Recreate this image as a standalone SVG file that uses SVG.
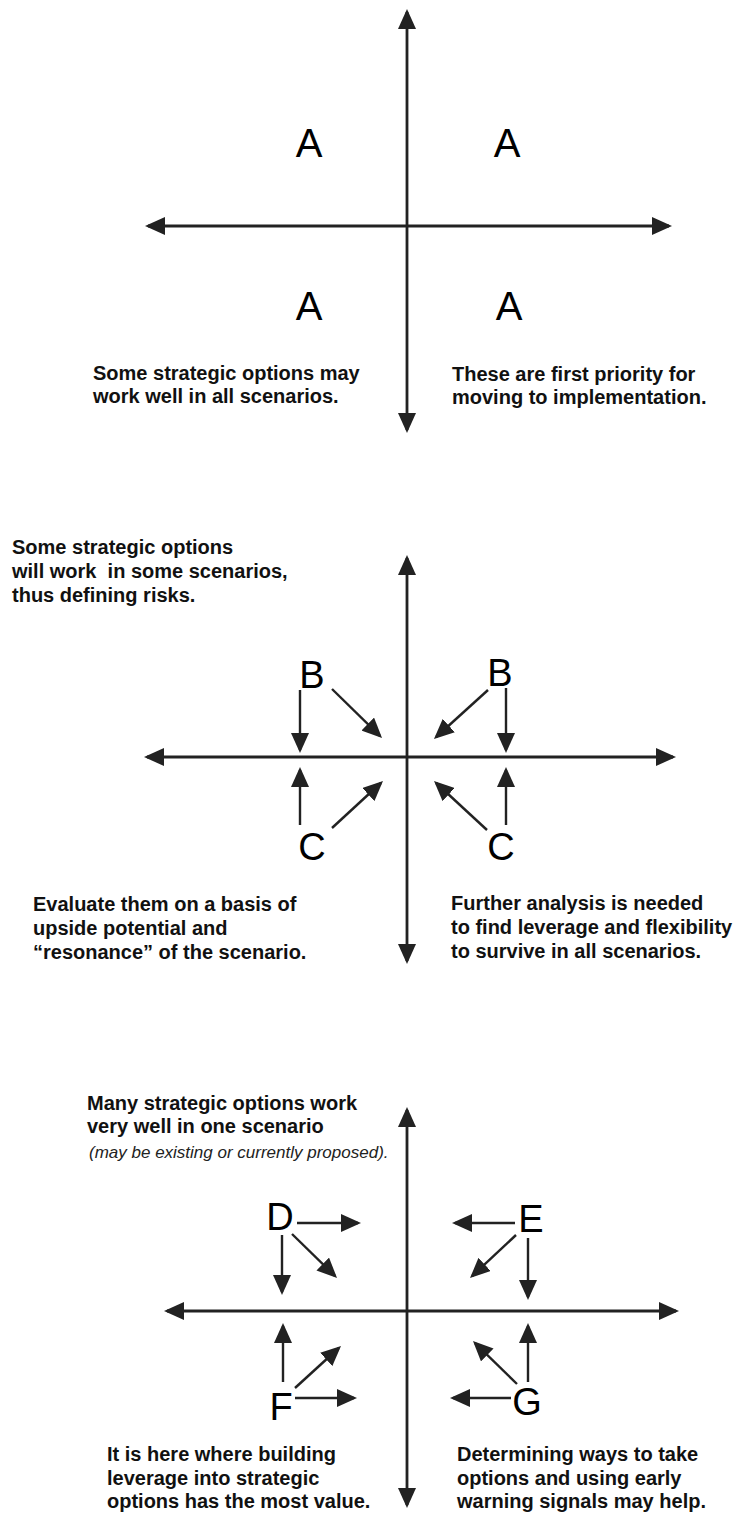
<svg xmlns="http://www.w3.org/2000/svg" width="736" height="1516" viewBox="0 0 736 1516">
<style>
.ax{stroke:#222;stroke-width:2.8;fill:none;marker-start:url(#ah);marker-end:url(#ah)}
.ar{stroke:#222;stroke-width:2.4;fill:none;marker-end:url(#ah)}
.big{font-family:"Liberation Sans",Arial,sans-serif;fill:#000;text-anchor:middle}
.a{font-size:40px}
.l{font-size:38px}
.t{font-family:"Liberation Sans",Arial,sans-serif;font-weight:bold;font-size:20px;fill:#111}
.it{font-family:"Liberation Sans",Arial,sans-serif;font-style:italic;font-size:17px;fill:#222}
</style>
<defs>
<marker id="ah" markerUnits="userSpaceOnUse" markerWidth="20" markerHeight="18" refX="17" refY="9" orient="auto-start-reverse">
<path d="M0,0 L20,9 L0,18 z" fill="#222"/>
</marker>
</defs>
<rect width="736" height="1516" fill="#fff"/>
<g id="connectors">
<!-- diagram 1 axes -->
<line class="ax" x1="407" y1="12" x2="407" y2="430"/>
<line class="ax" x1="148" y1="226" x2="669" y2="226"/>
<!-- diagram 2 axes -->
<line class="ax" x1="407" y1="558" x2="407" y2="961"/>
<line class="ax" x1="147" y1="757" x2="673" y2="757"/>
<!-- diagram 2 arrows -->
<line class="ar" x1="300" y1="690" x2="300" y2="750"/>
<line class="ar" x1="332" y1="689" x2="379.9" y2="735.9"/>
<line class="ar" x1="488" y1="690" x2="436.2" y2="737"/>
<line class="ar" x1="506" y1="688" x2="506" y2="750"/>
<line class="ar" x1="300" y1="825" x2="300" y2="770"/>
<line class="ar" x1="332" y1="828" x2="380.8" y2="783"/>
<line class="ar" x1="487" y1="830" x2="436.2" y2="783"/>
<line class="ar" x1="506" y1="825" x2="506" y2="770"/>
<!-- diagram 3 axes -->
<line class="ax" x1="407" y1="1110" x2="407" y2="1505"/>
<line class="ax" x1="167" y1="1311" x2="676" y2="1311"/>
<!-- diagram 3 arrows -->
<line class="ar" x1="297" y1="1223" x2="358" y2="1223"/>
<line class="ar" x1="282" y1="1235" x2="282" y2="1292"/>
<line class="ar" x1="292" y1="1234" x2="334.9" y2="1275.9"/>
<line class="ar" x1="515" y1="1223" x2="455" y2="1223"/>
<line class="ar" x1="516" y1="1235" x2="472.2" y2="1276"/>
<line class="ar" x1="528" y1="1238" x2="528" y2="1297"/>
<line class="ar" x1="283" y1="1382" x2="283" y2="1326"/>
<line class="ar" x1="295" y1="1388" x2="338.8" y2="1348"/>
<line class="ar" x1="295" y1="1398" x2="354" y2="1398"/>
<line class="ar" x1="511" y1="1398" x2="453" y2="1398"/>
<line class="ar" x1="517" y1="1384" x2="475.1" y2="1343.1"/>
<line class="ar" x1="528" y1="1382" x2="528" y2="1326"/>
</g>
<!-- diagram 1 -->
<g id="a-tl"><text class="big a" x="309" y="157">A</text></g>
<g id="a-tr"><text class="big a" x="507" y="157">A</text></g>
<g id="a-bl"><text class="big a" x="309" y="320">A</text></g>
<g id="a-br"><text class="big a" x="509" y="320">A</text></g>
<g id="note1-left"><text class="t" x="93" y="380">Some strategic options may</text><text class="t" x="93" y="403">work well in all scenarios.</text></g>
<g id="note1-right"><text class="t" x="452" y="381">These are first priority for</text><text class="t" x="452" y="404">moving to implementation.</text></g>
<!-- diagram 2 -->
<g id="note2-top"><text class="t" x="12" y="554">Some strategic options</text><text class="t" x="12" y="578" xml:space="preserve">will work  in some scenarios,</text><text class="t" x="12" y="602">thus defining risks.</text></g>
<g id="b-left"><text class="big l" x="312" y="688">B</text></g>
<g id="b-right"><text class="big l" x="500" y="686">B</text></g>
<g id="c-left"><text class="big l" x="312" y="860">C</text></g>
<g id="c-right"><text class="big l" x="501" y="860">C</text></g>
<g id="note2-left"><text class="t" x="33" y="911">Evaluate them on a basis of</text><text class="t" x="33" y="935">upside potential and</text><text class="t" x="33" y="959">“resonance” of the scenario.</text></g>
<g id="note2-right"><text class="t" x="451" y="910">Further analysis is needed</text><text class="t" x="451" y="934">to find leverage and flexibility</text><text class="t" x="451" y="958">to survive in all scenarios.</text></g>
<!-- diagram 3 -->
<g id="note3-top"><text class="t" x="87" y="1110">Many strategic options work</text><text class="t" x="87" y="1133">very well in one scenario</text><text class="it" x="89" y="1158">(may be existing or currently proposed).</text></g>
<g id="d"><text class="big l" x="280" y="1230">D</text></g>
<g id="e"><text class="big l" x="531" y="1232">E</text></g>
<g id="f"><text class="big l" x="281" y="1420">F</text></g>
<g id="g"><text class="big l" x="527" y="1415">G</text></g>
<g id="note3-left"><text class="t" x="107" y="1461">It is here where building</text><text class="t" x="107" y="1485">leverage into strategic</text><text class="t" x="107" y="1508">options has the most value.</text></g>
<g id="note3-right"><text class="t" x="457" y="1461">Determining ways to take</text><text class="t" x="457" y="1485">options and using early</text><text class="t" x="457" y="1508">warning signals may help.</text></g>
</svg>
